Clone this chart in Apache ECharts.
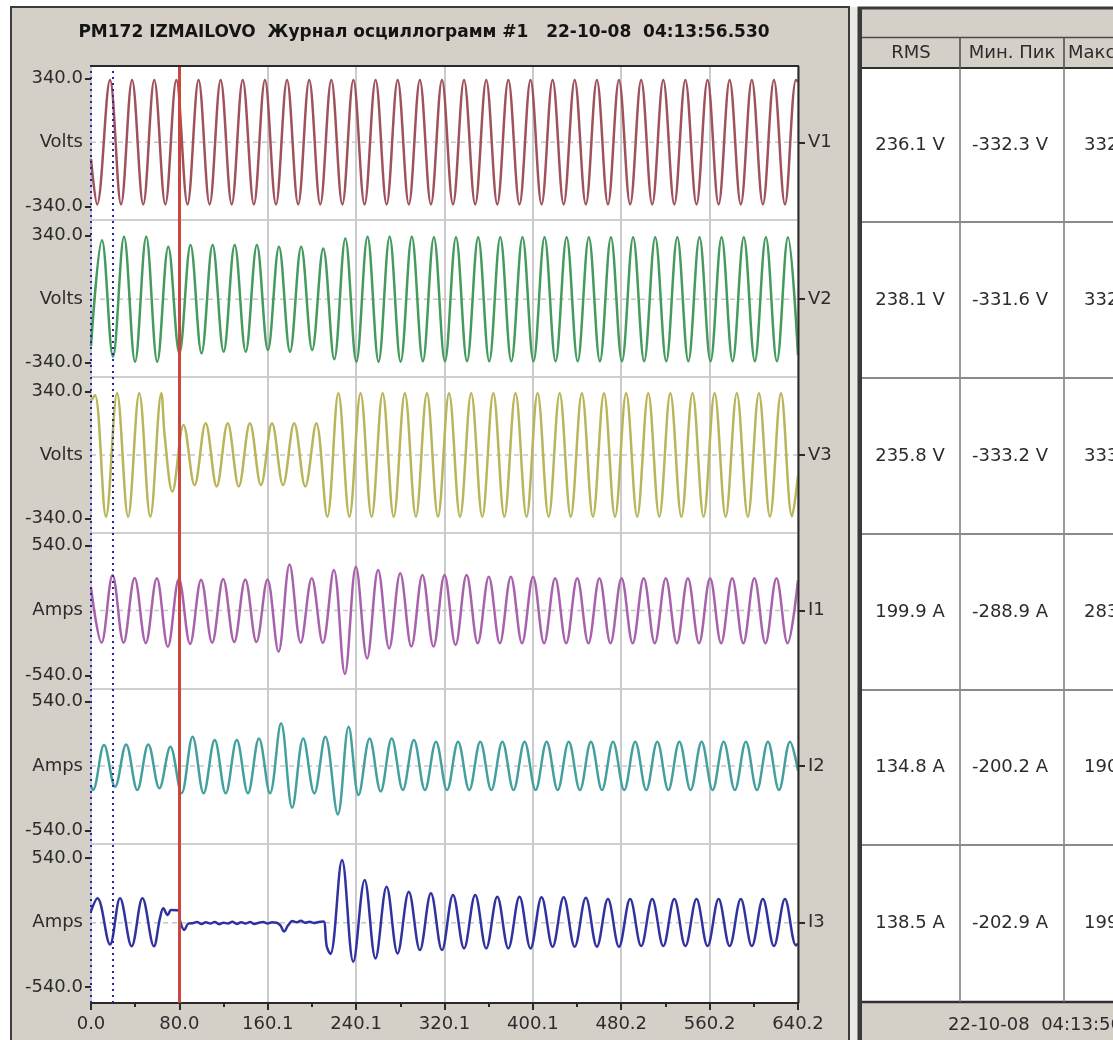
<!DOCTYPE html>
<html><head><meta charset="utf-8">
<script src="https://cdn.jsdelivr.net/npm/echarts@6/dist/echarts.min.js"></script>
<style>html,body{margin:0;padding:0;background:#fff;overflow:hidden}#c{width:1113px;height:1040px}</style>
</head><body><div id="c"></div>
<script>
// ---------------- DATA ----------------
const TITLE = 'PM172 IZMAILOVO  Журнал осциллограмм #1   22-10-08  04:13:56.530';
const FOOTER = '22-10-08  04:13:56.530';
const xTickLabels = ['0.0','80.0','160.1','240.1','320.1','400.1','480.2','560.2','640.2'];
const xMax = 640.2;
const xStep = 80.025;
const cursorTimes = [0, 19.3];
const markerTime = 80.0;
const channelNames = ['V1','V2','V3','I1','I2','I3'];
const unitNames = ['Volts','Volts','Volts','Amps','Amps','Amps'];
const rangeMax = [340,340,340,540,540,540];
const tableHeaders = ['RMS','Мин. Пик','Макс. Пик'];
const rmsVals = ['236.1 V','238.1 V','235.8 V','199.9 A','134.8 A','138.5 A'];
const minVals = ['-332.3 V','-331.6 V','-333.2 V','-288.9 A','-200.2 A','-202.9 A'];
const maxVals = ['332','332','333','283','190','199'];

const V1 = [[0,-90],[5.5,-330],[17.2,331],[27.2,-330],[37.2,331],[47.3,-330],[57.3,331],[67.3,-330],[77.3,331],[87.4,-330],[97.4,331],[107.4,-330],[117.4,331],[127.4,-330],[137.4,331],[147.5,-330],[157.5,331],[167.5,-330],[177.5,331],[187.6,-330],[197.6,331],[207.6,-330],[217.6,331],[227.6,-330],[237.6,331],[247.7,-330],[257.7,331],[267.7,-330],[277.7,331],[287.8,-330],[297.8,331],[307.8,-330],[317.8,331],[327.8,-330],[337.8,331],[347.9,-330],[357.9,331],[367.9,-330],[377.9,331],[388.0,-330],[398.0,331],[408.0,-330],[418.0,331],[428.0,-330],[438.0,331],[448.1,-330],[458.1,331],[468.1,-330],[478.1,331],[488.2,-330],[498.2,331],[508.2,-330],[518.2,331],[528.2,-330],[538.2,331],[548.3,-330],[558.3,331],[568.3,-330],[578.3,331],[588.4,-330],[598.4,331],[608.4,-330],[618.4,331],[628.4,-330],[638.4,331],[640.2,322]];

const V2 = [[0,-250],[9.9,316],[19.9,-308],[29.9,334],[39.9,-335],[50.0,334],[60.0,-335],[70.0,281],[80.0,-290],[90.1,290],[100.1,-290],[110.1,290],[120.1,-281],[130.1,290],[140.1,-281],[150.2,290],[160.2,-272],[170.2,281],[180.2,-281],[190.3,281],[200.3,-272],[210.3,272],[220.3,-322],[230.3,325],[240.3,-335],[250.4,334],[260.4,-335],[270.4,334],[280.4,-335],[290.5,334],[300.5,-332],[310.5,332],[320.5,-332],[330.5,332],[340.5,-332],[350.6,332],[360.6,-332],[370.6,332],[380.6,-332],[390.7,332],[400.7,-332],[410.7,332],[420.7,-332],[430.7,332],[440.7,-332],[450.8,332],[460.8,-332],[470.8,332],[480.8,-332],[490.9,332],[500.9,-332],[510.9,332],[520.9,-332],[530.9,332],[540.9,-332],[551.0,332],[561.0,-332],[571.0,332],[581.0,-332],[591.1,332],[601.1,-332],[611.1,332],[621.1,-332],[631.1,332],[640.2,-300]];

const V3 = [[0,290],[3.6,321],[13.6,-330],[23.6,330],[33.6,-330],[43.7,330],[53.7,-330],[63.7,330],[66.8,97],[73.7,-196],[83.8,161],[93.8,-161],[103.8,170],[113.8,-168],[123.8,170],[133.8,-168],[143.9,170],[153.9,-161],[163.9,170],[173.9,-161],[184.0,170],[194.0,-168],[204.0,170],[214.0,-330],[224.0,330],[234.0,-330],[244.1,330],[254.1,-330],[264.1,330],[274.1,-330],[284.2,330],[294.2,-330],[304.2,330],[314.2,-330],[324.2,330],[334.2,-330],[344.3,330],[354.3,-330],[364.3,330],[374.3,-330],[384.4,330],[394.4,-330],[404.4,330],[414.4,-330],[424.4,330],[434.4,-330],[444.5,330],[454.5,-330],[464.5,330],[474.5,-330],[484.6,330],[494.6,-330],[504.6,330],[514.6,-330],[524.6,330],[534.6,-330],[544.7,330],[554.7,-330],[564.7,330],[574.7,-330],[584.8,330],[594.8,-330],[604.8,330],[614.8,-330],[624.8,330],[634.8,-328],[640.2,-110]];

const I1 = [[0,190],[9.5,-268],[19.5,293],[29.5,-268],[39.5,270],[49.6,-270],[59.6,268],[69.6,-302],[79.6,262],[89.7,-278],[99.7,256],[109.7,-268],[119.7,262],[129.7,-262],[139.7,258],[149.8,-262],[159.8,258],[169.8,-342],[179.8,383],[189.9,-268],[199.9,268],[209.9,-270],[219.9,337],[229.9,-527],[239.9,364],[250.0,-398],[260.0,337],[270.0,-315],[280.0,309],[290.1,-300],[300.1,295],[310.1,-300],[320.1,295],[330.1,-286],[340.1,295],[350.2,-272],[360.2,281],[370.2,-272],[380.2,281],[390.3,-272],[400.3,281],[410.3,-272],[420.3,267],[430.3,-272],[440.3,267],[450.4,-272],[460.4,267],[470.4,-272],[480.4,267],[490.5,-272],[500.5,267],[510.5,-272],[520.5,267],[530.5,-272],[540.5,267],[550.6,-272],[560.6,267],[570.6,-272],[580.6,267],[590.7,-272],[600.7,267],[610.7,-272],[620.7,267],[630.7,-272],[640.2,253]];

const I2 = [[0,-170],[1.8,-201],[11.8,175],[21.8,-174],[31.8,181],[41.9,-201],[51.9,181],[61.9,-187],[71.9,161],[82.0,-229],[92.0,245],[102.0,-229],[112.0,217],[122.0,-229],[132.0,217],[142.1,-229],[152.1,231],[162.1,-229],[172.1,357],[182.2,-350],[192.2,231],[202.2,-229],[212.2,245],[223.5,-405],[233.3,329],[242.3,-243],[252.3,231],[262.3,-213],[272.3,231],[282.4,-201],[292.4,217],[302.4,-201],[312.4,203],[322.4,-201],[332.4,203],[342.5,-201],[352.5,203],[362.5,-201],[372.5,203],[382.6,-201],[392.6,203],[402.6,-201],[412.6,203],[422.6,-201],[432.6,203],[442.7,-201],[452.7,203],[462.7,-201],[472.7,203],[482.8,-201],[492.8,203],[502.8,-201],[512.8,203],[522.8,-201],[532.8,203],[542.9,-201],[552.9,203],[562.9,-201],[572.9,203],[583.0,-201],[593.0,203],[603.0,-201],[613.0,203],[623.0,-201],[633.0,203],[640.2,-40]];

const I3 = [[0,98],[5.8,204],[17.2,-182],[26.3,204],[36.8,-197],[46.6,204],[57.0,-197],[62.5,40],[65.5,120],[69.5,64],[72.5,106],[78.8,103],[80.8,8],[84.5,-62],[88,-8],[92,-4],[96,6],[100,-10],[104,3],[108,-7],[112,6],[116,-12],[120,0],[124,-7],[128,8],[132,-10],[136,3],[140,-7],[144,6],[148,-10],[152,0],[156,6],[160,-7],[164,3],[168,0],[171.5,-22],[174.8,-74],[178.5,-22],[182.5,14],[186,3],[190,16],[194,0],[198,8],[202,-2],[206,6],[210.5,10],[213.5,-200],[216.8,-262],[227.3,525],[237.5,-327],[247.8,357],[257.6,-299],[267.7,301],[277.6,-257],[287.8,259],[297.8,-229],[307.8,246],[317.8,-229],[327.8,232],[337.8,-215],[347.9,232],[357.9,-215],[367.9,217],[377.9,-215],[388.0,217],[398.0,-215],[408.0,213],[418.0,-201],[428.0,213],[438.0,-201],[448.1,208],[458.1,-201],[468.1,198],[478.1,-201],[488.2,198],[498.2,-196],[508.2,198],[518.2,-196],[528.2,198],[538.2,-196],[548.3,198],[558.3,-196],[568.3,198],[578.3,-196],[588.4,198],[598.4,-196],[608.4,198],[618.4,-196],[628.4,198],[638.4,-190],[640.2,-175]];

const channelData = [V1, V2, V3, I1, I2, I3];

// ---------------- LAYOUT / STYLE ----------------
const colors = ['#a0525c','#459a5e','#b9b55a','#a862ac','#43a09e','#30339f'];
const PL = 91, PW = 707, PT = 66, PH = 937;
const panelCenter = [142.3, 299.2, 455, 610.5, 766, 922.7];
const panelHalf = [64, 63.5, 63.5, 65, 64.5, 64.5];
const panelSeparators = [220, 377, 533, 689, 844];
const FONT = 'DejaVu Sans';
const TXT = '#2c2c2c';

const grids = [{left: PL, top: PT, width: PW, height: PH, outerBoundsMode: 'none', containLabel: false}];
const xAxes = [{
  gridIndex: 0, type: 'value', min: 0, max: xMax, interval: xStep,
  axisLine: {show: true, lineStyle: {color: '#2a2a2a', width: 2}},
  axisTick: {show: true, length: 7, lineStyle: {color: '#2a2a2a', width: 2}},
  minorTick: {show: true, splitNumber: 2, length: 4, lineStyle: {color: '#2a2a2a', width: 2}},
  splitLine: {show: true, lineStyle: {color: '#cbcbcb', width: 2}},
  axisLabel: {
    margin: 12, fontFamily: FONT, fontSize: 18, color: TXT,
    formatter: v => xTickLabels[Math.round(v / xStep)] ?? ''
  }
}];
const yAxes = [{gridIndex: 0, type: 'value', min: 0, max: 1, show: false}];
const series = [{
  type: 'line', xAxisIndex: 0, yAxisIndex: 0, z: 10, silent: true,
  data: [[0, 0.5], [xMax, 0.5]], showSymbol: false, lineStyle: {opacity: 0},
  markLine: {
    silent: true, symbol: 'none', label: {show: false}, animation: false,
    data: [
      {xAxis: markerTime, lineStyle: {color: '#cc4640', width: 3, type: 'solid'}},
      ...cursorTimes.map(t => ({xAxis: t, lineStyle: {color: '#2626a0', width: 2, type: [2, 4]}}))
    ]
  }
}];

channelNames.forEach((name, i) => {
  const g = i + 1;
  grids.push({left: PL, top: panelCenter[i] - panelHalf[i], width: PW, height: panelHalf[i] * 2, outerBoundsMode: 'none', containLabel: false});
  xAxes.push({gridIndex: g, type: 'value', min: 0, max: xMax, show: false});
  const m = rangeMax[i];
  yAxes.push({
    gridIndex: g, type: 'value', position: 'left', min: -m, max: m, interval: m,
    axisLine: {show: false}, splitLine: {show: false},
    axisTick: {show: true, length: 6, customValues: [-m, m], lineStyle: {color: '#2a2a2a', width: 2}},
    axisLabel: {margin: 8, fontFamily: FONT, fontSize: 18, color: TXT,
      formatter: v => v === 0 ? unitNames[i] : v.toFixed(1)}
  });
  yAxes.push({
    gridIndex: g, type: 'value', position: 'right', min: -m, max: m, interval: m,
    axisLine: {show: false}, splitLine: {show: false},
    axisTick: {show: true, length: 7, customValues: [0], lineStyle: {color: '#2a2a2a', width: 2}},
    axisLabel: {margin: 10, fontFamily: FONT, fontSize: 18, color: TXT, customValues: [0],
      formatter: v => v === 0 ? name : ''}
  });
  const yi = 1 + i * 2;
  series.push({
    type: 'line', xAxisIndex: g, yAxisIndex: yi, z: 1, silent: true,
    data: [[0, 0], [xMax, 0]], showSymbol: false,
    lineStyle: {color: '#c6c6c6', width: 1.5, type: [5, 4]}
  });
  series.push({
    name, type: 'line', xAxisIndex: g, yAxisIndex: yi, z: 3,
    data: channelData[i], showSymbol: false, smooth: 0.36,
    lineStyle: {color: colors[i], width: 2.5}
  });
});

// ---------------- GRAPHICS (frames + table) ----------------
const G = [];
const txt = (x, y, text, opts) => Object.assign({
  type: 'text', x, y, silent: true, z: 60,
  style: Object.assign({text, fill: TXT, font: '18px "' + FONT + '"',
    align: 'center', textAlign: 'center', verticalAlign: 'middle', textVerticalAlign: 'middle'}, opts || {})
});
const ln = (x1, y1, x2, y2, stroke, lw, z) => ({type: 'line', silent: true, z: z, shape: {x1, y1, x2, y2}, style: {stroke, lineWidth: lw}});

G.push({type: 'rect', silent: true, z: -100, shape: {x: 11, y: 7, width: 838, height: 1045}, style: {fill: '#d4d0c8', stroke: '#3c3c3c', lineWidth: 2}});
G.push({type: 'rect', silent: true, z: -101, shape: {x: 849, y: 7, width: 10, height: 1040}, style: {fill: '#ebe9e4'}});
G.push({type: 'rect', silent: true, z: -100, shape: {x: 859, y: 8, width: 280, height: 1045}, style: {fill: '#d4d0c8', stroke: '#3a3a3a', lineWidth: 3}});
G.push({type: 'rect', silent: true, z: -90, shape: {x: PL, y: PT, width: PW, height: PH}, style: {fill: '#ffffff'}});
panelSeparators.forEach(y => G.push(ln(PL, y, PL + PW, y, '#cfcfcf', 2, -80)));
G.push(ln(PL - 1, PT, PL + PW + 1, PT, '#2a2a2a', 2, 60));
G.push(ln(PL + PW + 0.5, PT, PL + PW + 0.5, PT + PH, '#2a2a2a', 2, 60));
G.push(txt(424, 33, TITLE, {font: 'bold 17px "' + FONT + '"', fill: '#141414'}));

// table
const colEdges = [861, 960, 1064];
const rowBounds = [68, 222, 378, 534, 690, 845, 1002];
G.push({type: 'rect', silent: true, z: -60, shape: {x: 861, y: 68, width: 260, height: 934}, style: {fill: '#ffffff'}});
G.push(ln(861, 37.5, 1113, 37.5, '#4a4a4a', 1.5, 40));
G.push(ln(861, 68, 1113, 68, '#303030', 2, 40));
G.push(ln(861, 1002, 1113, 1002, '#303030', 2.5, 40));
[colEdges[1], colEdges[2]].forEach(x => {
  G.push(ln(x, 37, x, 68, '#4a4a4a', 1.5, 40));
  G.push(ln(x, 68, x, 1002, '#777777', 1.5, 40));
});
rowBounds.slice(1, -1).forEach(y => G.push(ln(861, y, 1113, y, '#8a8a8a', 2, 40)));
G.push(ln(860.5, 8, 860.5, 1040, '#3a3a3a', 3, 45));
G.push(txt(911, 53, tableHeaders[0]));
G.push(txt(1012, 53, tableHeaders[1]));
G.push(txt(1068, 53, tableHeaders[2], {align: 'left', textAlign: 'left'}));
channelNames.forEach((n, i) => {
  const yc = (rowBounds[i] + rowBounds[i + 1]) / 2;
  G.push(txt(910, yc, rmsVals[i]));
  G.push(txt(1010, yc, minVals[i]));
  G.push(txt(1084, yc, maxVals[i], {align: 'left', textAlign: 'left'}));
});
G.push(txt(948, 1025, FOOTER, {align: 'left', textAlign: 'left'}));

const chart = echarts.init(document.getElementById('c'), null, {renderer: 'canvas'});
chart.setOption({
  animation: false,
  backgroundColor: '#ffffff',
  textStyle: {fontFamily: FONT},
  grid: grids, xAxis: xAxes, yAxis: yAxes, series: series,
  graphic: {elements: G}
});
</script></body></html>
